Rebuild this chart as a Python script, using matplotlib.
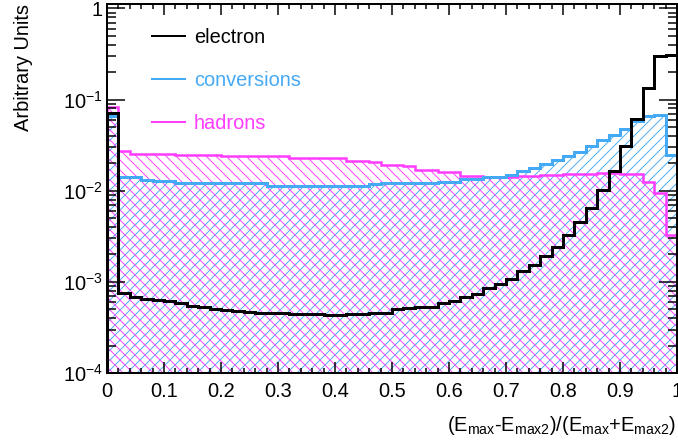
import numpy as np
import matplotlib.pyplot as plt
from matplotlib.lines import Line2D
from matplotlib.ticker import MultipleLocator, FixedLocator, NullFormatter

plt.rcParams['font.family'] = ['Liberation Sans', 'DejaVu Sans']
plt.rcParams['mathtext.fontset'] = 'custom'
plt.rcParams['mathtext.rm'] = 'Liberation Sans'
plt.rcParams['mathtext.default'] = 'regular'
plt.rcParams['hatch.linewidth'] = 0.75

DPI = 90
def pt(px):
    # pixels -> points at this dpi
    return px * 72.0 / DPI

# 50 bins of width 0.02 on [0, 1]
edges = np.linspace(0, 1, 51)

electron = [0.072, 7.5e-4, 6.8e-4, 6.5e-4, 6.4e-4, 6.1e-4, 5.8e-4, 5.5e-4, 5.3e-4, 5.1e-4,
            4.9e-4, 4.8e-4, 4.7e-4, 4.6e-4, 4.5e-4, 4.5e-4, 4.45e-4, 4.45e-4, 4.4e-4, 4.3e-4,
            4.3e-4, 4.4e-4, 4.4e-4, 4.5e-4, 4.6e-4, 5.0e-4, 5.2e-4, 5.3e-4, 5.3e-4, 5.8e-4,
            6.1e-4, 6.8e-4, 7.4e-4, 8.5e-4, 9.5e-4, 1.07e-3, 1.3e-3, 1.54e-3, 1.9e-3, 2.44e-3,
            3.3e-3, 4.5e-3, 6.5e-3, 1.03e-2, 1.63e-2, 3.1e-2, 6.1e-2, 0.135, 0.30, 0.31]

conversions = [0.066, 0.0142, 0.0142, 0.0130, 0.0129, 0.0128, 0.0123, 0.0122, 0.0122, 0.0122,
               0.0122, 0.0122, 0.0122, 0.0122, 0.0112, 0.0112, 0.0112, 0.0112, 0.0112, 0.0112,
               0.0112, 0.0113, 0.0114, 0.0118, 0.0123, 0.0123, 0.0123, 0.0123, 0.0123, 0.0126,
               0.0126, 0.0135, 0.0135, 0.0141, 0.0141, 0.0147, 0.0163, 0.0177, 0.0196, 0.0215,
               0.0238, 0.0264, 0.0307, 0.0363, 0.0412, 0.048, 0.0578, 0.0656, 0.0684, 0.0249]

hadrons = [0.082, 0.027, 0.0255, 0.025, 0.025, 0.025, 0.0245, 0.0245, 0.0245, 0.0245,
           0.024, 0.024, 0.024, 0.024, 0.024, 0.024, 0.0229, 0.0229, 0.0229, 0.0229,
           0.0229, 0.021, 0.021, 0.0205, 0.0193, 0.0193, 0.0185, 0.017, 0.017, 0.0159,
           0.0159, 0.0146, 0.0146, 0.0141, 0.0141, 0.0141, 0.0144, 0.0144, 0.0147, 0.0147,
           0.0154, 0.0154, 0.0154, 0.0156, 0.0156, 0.0154, 0.0154, 0.0126, 0.0094, 0.0033]

labels = ['electron', 'conversions', 'hadrons']
colors = ['black', '#45aaf5', '#ff3cff']

fig = plt.figure(figsize=(678 / DPI, 444 / DPI), dpi=DPI)
ax = fig.add_axes([107 / 678, 1 - 373 / 444, 570 / 678, 369 / 444])

base = 1e-5
# hatched areas
ax.stairs(conversions, edges, baseline=base, fill=True, facecolor='none',
          edgecolor=colors[1], linewidth=0, hatch='///')
ax.stairs(hadrons, edges, baseline=base, fill=True, facecolor='none',
          edgecolor=colors[2], linewidth=0, hatch='\\\\\\')
# outlines
ax.stairs(hadrons, edges, baseline=base, color=colors[2], linewidth=pt(2.5))
ax.stairs(conversions, edges, baseline=base, color=colors[1], linewidth=pt(3))
ax.stairs(electron, edges, baseline=base, color=colors[0], linewidth=pt(3))

ax.set_yscale('log')
ax.set_xlim(0, 1)
ax.set_ylim(1e-4, 1.12)

ax.xaxis.set_minor_locator(MultipleLocator(0.02))
ax.set_xticks(np.arange(0, 1.01, 0.1))
ax.set_xticklabels(['0', '0.1', '0.2', '0.3', '0.4', '0.5', '0.6', '0.7', '0.8', '0.9', '1'])
ax.yaxis.set_major_locator(FixedLocator([1e-4, 1e-3, 1e-2, 1e-1, 1]))
ax.set_yticklabels(['10$^{-4}$', '10$^{-3}$', '10$^{-2}$', '10$^{-1}$', '1'])
minors = [m * 10.0 ** e for e in range(-4, 0) for m in range(2, 10)]
ax.yaxis.set_minor_locator(FixedLocator(minors))
ax.yaxis.set_minor_formatter(NullFormatter())

fs = pt(20)
ax.tick_params(axis='both', which='both', direction='in', top=True, right=True,
               labelsize=fs, width=pt(1.5))
ax.tick_params(axis='x', which='major', length=pt(11), pad=pt(9))
ax.tick_params(axis='x', which='minor', length=pt(5))
ax.tick_params(axis='y', which='major', length=pt(18), pad=pt(4))
ax.tick_params(axis='y', which='minor', length=pt(9))
for s in ax.spines.values():
    s.set_linewidth(pt(2))

ax.set_ylabel('Arbitrary Units', fontsize=fs, loc='top', labelpad=pt(30))
fig.text(676 / 678, 1 - 431 / 444, '(E$_{max}$-E$_{max2}$)/(E$_{max}$+E$_{max2}$)',
         fontsize=fs, ha='right', va='baseline')

handles = [Line2D([], [], color=c, lw=pt(2)) for c in colors]
ax.legend(handles, labels, loc='upper left', bbox_to_anchor=(0.079, 0.935),
          frameon=False, fontsize=fs, labelcolor=colors, borderpad=0,
          borderaxespad=0, handlelength=1.65, handletextpad=0.45, labelspacing=1.2)

fig.savefig('out.png', dpi=DPI)
